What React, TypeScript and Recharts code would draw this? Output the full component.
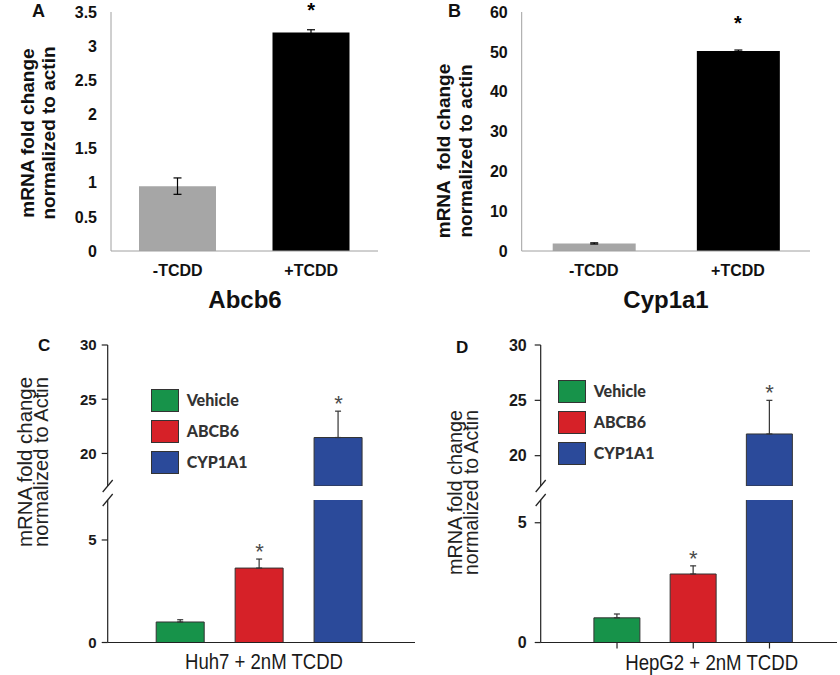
import React from 'react';
import { ComposedChart, Bar, Cell, XAxis, YAxis, ErrorBar, Line, Legend } from 'recharts';

// ---------- Panel A (Abcb6) ----------
const aCategories = ['-TCDD', '+TCDD'];
const aValues = [0.95, 3.2];
const aErrors = [0.12, 0.04];
const aStars = [false, true];
const aTicks = [0, 0.5, 1, 1.5, 2, 2.5, 3, 3.5];

// ---------- Panel B (Cyp1a1) ----------
const bCategories = ['-TCDD', '+TCDD'];
const bValues = [1.9, 50.2];
const bErrors = [0.15, 0.25];
const bStars = [false, true];
const bTicks = [0, 10, 20, 30, 40, 50, 60];

const abColors = ['#a6a6a6', '#000000'];

// ---------- Panels C / D ----------
const groups = ['Vehicle', 'ABCB6', 'CYP1A1'];
const groupColors = ['#17934a', '#d62128', '#2b4a9a'];

const cValues = [1.0, 3.63, 21.47];
const cErrors = [0.11, 0.44, 2.43];
const cStars = [false, true, true];

const dValues = [1.03, 2.86, 21.96];
const dErrors = [0.16, 0.34, 3.04];
const dStars = [false, true, true];

const upperTicks = [20, 25, 30];
const lowerTicks = [0, 5];

const cUpperDomain = [17.0, 30];
const cLowerDomain = [0, 6.95];
const dUpperDomain = [17.26, 30];
const dLowerDomain = [0, 5.95];

type Row = { name: string; value: number | null; err: number | number[] | null; star: number | null };

function simpleRows(cats: string[], vals: number[], errs: number[], stars: boolean[]): Row[] {
  return cats.map((name, i) => ({
    name,
    value: vals[i],
    err: errs[i],
    star: stars[i] ? vals[i] + errs[i] : null,
  }));
}

function brokenRows(cats: string[], vals: number[], errs: number[], stars: boolean[], lo: number, hi: number, upper: boolean): Row[] {
  return cats.map((name, i) => {
    const v = vals[i];
    const visibleTop = v > lo && v < hi;
    return {
      name,
      value: upper ? (v > lo ? v : null) : v,
      err: visibleTop ? [0, errs[i]] : null,
      star: visibleTop && stars[i] ? v + errs[i] : null,
    };
  });
}

const aRows = simpleRows(aCategories, aValues, aErrors, aStars);
const bRows = simpleRows(bCategories, bValues, bErrors, bStars);
const cUpperRows = brokenRows(groups, cValues, cErrors, cStars, cUpperDomain[0], cUpperDomain[1], true);
const cLowerRows = brokenRows(groups, cValues, cErrors, cStars, cLowerDomain[0], cLowerDomain[1], false);
const dUpperRows = brokenRows(groups, dValues, dErrors, dStars, dUpperDomain[0], dUpperDomain[1], true);
const dLowerRows = brokenRows(groups, dValues, dErrors, dStars, dLowerDomain[0], dLowerDomain[1], false);

const ARIAL = "Arial, 'Liberation Sans', sans-serif";

function starDot(offset: number, size: number, fill: string, weight: string) {
  return (props: any) => {
    const { cx, cy, value, index } = props;
    if (value == null || cy == null || Number.isNaN(cy) || cx == null) return <g key={`st-${index}`} />;
    return (
      <text key={`st-${index}`} x={cx} y={cy - offset} textAnchor="middle" fontSize={size} fontWeight={weight} fill={fill} fontFamily={ARIAL}>
        *
      </text>
    );
  };
}

function legendContent() {
  return (
    <div>
      {groups.map((n, i) => (
        <div key={n} style={{ display: 'flex', alignItems: 'center', height: 31 }}>
          <div style={{ width: 28, height: 23, background: groupColors[i], border: '1px solid #333', boxSizing: 'border-box' }} />
          <span style={{ marginLeft: 8, fontFamily: 'Lato, sans-serif', fontWeight: 900, fontSize: 16, color: '#333', lineHeight: '16px' }}>{n}</span>
        </div>
      ))}
    </div>
  );
}

const emptyTick = (props: any) => <g key={props.index} />;

function TopPanel(props: { rows: Row[]; left: number; margin: any; domain: number[]; ticks: number[]; barSize: number; starOffset: number }) {
  const { rows, left, margin, domain, ticks, barSize, starOffset } = props;
  return (
    <div style={{ position: 'absolute', left, top: 0 }}>
      <ComposedChart width={420} height={330} data={rows} margin={margin}>
        <XAxis
          dataKey="name"
          tickLine={false}
          axisLine={{ stroke: '#a0a0a0' }}
          tick={{ fill: '#111', fontSize: 16, fontWeight: 'bold', fontFamily: ARIAL }}
          tickSize={6}
          tickMargin={8}
          height={30}
        />
        <YAxis
          type="number"
          domain={domain}
          ticks={ticks}
          interval={0}
          width={60}
          tickLine={false}
          axisLine={{ stroke: '#a0a0a0' }}
          tick={{ fill: '#111', fontSize: 16, fontWeight: 'bold', fontFamily: ARIAL }}
          tickSize={6}
          tickMargin={8}
        />
        <Bar dataKey="value" barSize={barSize} isAnimationActive={false}>
          {rows.map((r, i) => (
            <Cell key={r.name} fill={abColors[i]} />
          ))}
          <ErrorBar dataKey="err" width={4} stroke="#000" strokeWidth={1.2} direction="y" />
        </Bar>
        <Line dataKey="star" stroke="none" dot={starDot(starOffset, 20, '#000', 'bold')} activeDot={false} isAnimationActive={false} legendType="none" />
      </ComposedChart>
    </div>
  );
}

function BrokenPanel(props: {
  left: number;
  upperRows: Row[];
  lowerRows: Row[];
  upperDomain: number[];
  lowerDomain: number[];
  marginLeft: number;
  marginRight: number;
  padLeft: number;
  padRight: number;
  barSize: number;
  tickFont: number;
  tickMargin: number;
  xTicks: boolean;
  legendLeft: number;
  legendTop: number;
}) {
  const p = props;
  const yTick = { fill: '#1a1a1a', fontSize: p.tickFont, fontWeight: 'bold', fontFamily: ARIAL };
  return (
    <>
      <div style={{ position: 'absolute', left: p.left, top: 330 }}>
        <ComposedChart width={420} height={160} data={p.upperRows} margin={{ top: 15, right: p.marginRight, bottom: 4, left: p.marginLeft }}>
          <XAxis dataKey="name" hide padding={{ left: p.padLeft, right: p.padRight }} />
          <YAxis
            type="number"
            domain={p.upperDomain}
            ticks={upperTicks}
            interval={0}
            allowDataOverflow
            width={60}
            axisLine={{ stroke: '#222', strokeWidth: 1.2 }}
            tickLine={{ stroke: '#222', strokeWidth: 1.2 }}
            tick={yTick}
            tickSize={6}
            tickMargin={p.tickMargin}
          />
          <Bar dataKey="value" barSize={p.barSize} stroke="#333" strokeWidth={1} isAnimationActive={false}>
            {p.upperRows.map((r, i) => (
              <Cell key={r.name} fill={groupColors[i]} />
            ))}
            <ErrorBar dataKey="err" width={3} stroke="#333" strokeWidth={1.2} direction="y" />
          </Bar>
          <Line dataKey="star" stroke="none" dot={starDot(0, 22, '#4a4a4a', 'normal')} activeDot={false} isAnimationActive={false} legendType="none" />
          <Legend
            content={legendContent}
            layout="vertical"
            verticalAlign="middle"
            align="center"
            wrapperStyle={{ left: p.legendLeft, top: p.legendTop, width: 140 }}
          />
        </ComposedChart>
      </div>
      <div style={{ position: 'absolute', left: p.left, top: 490 }}>
        <ComposedChart width={420} height={185} data={p.lowerRows} margin={{ top: 10, right: p.marginRight, bottom: 22.5, left: p.marginLeft }}>
          <XAxis
            dataKey="name"
            padding={{ left: p.padLeft, right: p.padRight }}
            axisLine={{ stroke: '#222', strokeWidth: 1.2 }}
            tickLine={p.xTicks ? { stroke: '#222', strokeWidth: 1.2 } : false}
            tick={emptyTick}
            tickSize={6}
            height={10}
          />
          <YAxis
            type="number"
            domain={p.lowerDomain}
            ticks={lowerTicks}
            interval={0}
            allowDataOverflow
            width={60}
            axisLine={{ stroke: '#222', strokeWidth: 1.2 }}
            tickLine={{ stroke: '#222', strokeWidth: 1.2 }}
            tick={yTick}
            tickSize={6}
            tickMargin={p.tickMargin}
          />
          <Bar dataKey="value" barSize={p.barSize} stroke="#333" strokeWidth={1} isAnimationActive={false}>
            {p.lowerRows.map((r, i) => (
              <Cell key={r.name} fill={groupColors[i]} />
            ))}
            <ErrorBar dataKey="err" width={3} stroke="#333" strokeWidth={1.2} direction="y" />
          </Bar>
          <Line dataKey="star" stroke="none" dot={starDot(0, 22, '#4a4a4a', 'normal')} activeDot={false} isAnimationActive={false} legendType="none" />
        </ComposedChart>
      </div>
    </>
  );
}

function Slash({ x, y }: { x: number; y: number }) {
  return <line x1={x - 5} y1={y + 6} x2={x + 5} y2={y - 6} stroke="#222" strokeWidth={1.2} />;
}

function RotTitle({ x1, x2, cy, lines, size, weight, fill, len }: { x1: number; x2: number; cy: number; lines: string[]; size: number; weight: string; fill: string; len?: number }) {
  const common: any = { textAnchor: 'middle', fontSize: size, fontWeight: weight, fill, fontFamily: ARIAL, style: { whiteSpace: 'pre' } };
  if (len) {
    common.textLength = len;
    common.lengthAdjust = 'spacingAndGlyphs';
  }
  return (
    <>
      <text transform={`translate(${x1},${cy}) rotate(-90)`} {...common}>{lines[0]}</text>
      <text transform={`translate(${x2},${cy}) rotate(-90)`} {...common}>{lines[1]}</text>
    </>
  );
}

export default function App() {
  return (
    <div style={{ position: 'absolute', left: 0, top: 0, width: 840, height: 675, background: '#fff', overflow: 'hidden' }}>
      <TopPanel rows={aRows} left={0} margin={{ top: 12, right: 42, bottom: 49, left: 51 }} domain={[0, 3.5]} ticks={aTicks} barSize={77} starOffset={13} />
      <TopPanel rows={bRows} left={420} margin={{ top: 12, right: 30, bottom: 49, left: 41.7 }} domain={[0, 60]} ticks={bTicks} barSize={83} starOffset={20} />
      <BrokenPanel
        left={0}
        upperRows={cUpperRows}
        lowerRows={cLowerRows}
        upperDomain={cUpperDomain}
        lowerDomain={cLowerDomain}
        marginLeft={47.7}
        marginRight={5}
        padLeft={33.5}
        padRight={37}
        barSize={48}
        tickFont={15}
        tickMargin={5}
        xTicks={false}
        legendLeft={150.7}
        legendTop={54.5}
      />
      <BrokenPanel
        left={420}
        upperRows={dUpperRows}
        lowerRows={dLowerRows}
        upperDomain={dUpperDomain}
        lowerDomain={dLowerDomain}
        marginLeft={60.7}
        marginRight={3}
        padLeft={38.2}
        padRight={29.4}
        barSize={46}
        tickFont={16}
        tickMargin={8}
        xTicks={true}
        legendLeft={137.7}
        legendTop={45.5}
      />
      <svg width={840} height={675} style={{ position: 'absolute', left: 0, top: 0, pointerEvents: 'none' }}>
        <text x={32} y={17} fontSize={18} fontWeight="bold" fontFamily={ARIAL} fill="#111">A</text>
        <text x={448} y={17} fontSize={18} fontWeight="bold" fontFamily={ARIAL} fill="#111">B</text>
        <text x={38} y={351} fontSize={17} fontWeight="bold" fontFamily={ARIAL} fill="#111">C</text>
        <text x={456} y={353} fontSize={17} fontWeight="bold" fontFamily={ARIAL} fill="#111">D</text>

        <RotTitle x1={34} x2={55} cy={133} lines={['mRNA fold change', 'normalized to actin']} size={19} weight="bold" fill="#111" />
        <RotTitle x1={450} x2={472} cy={151} lines={['mRNA  fold change', 'normalized to actin']} size={19} weight="bold" fill="#111" />
        <RotTitle x1={32} x2={48} cy={462} lines={['mRNA fold change', 'normalized to Actin']} size={20} weight="normal" fill="#222" len={170} />
        <RotTitle x1={462} x2={478} cy={492.5} lines={['mRNA fold change', 'normalized to Actin']} size={20} weight="normal" fill="#222" len={165} />

        <text x={245} y={308} textAnchor="middle" fontSize={24} fontWeight="bold" fontFamily={ARIAL} fill="#111">Abcb6</text>
        <text x={666} y={308} textAnchor="middle" fontSize={24} fontWeight="bold" fontFamily={ARIAL} fill="#111">Cyp1a1</text>
        <text x={264} y={669} textAnchor="middle" fontSize={22} fontFamily={ARIAL} fill="#1a1a1a" textLength={158} lengthAdjust="spacingAndGlyphs">Huh7 + 2nM TCDD</text>
        <text x={711.7} y={670} textAnchor="middle" fontSize={22} fontFamily={ARIAL} fill="#1a1a1a" textLength={173} lengthAdjust="spacingAndGlyphs">HepG2 + 2nM TCDD</text>

        <Slash x={107.7} y={486} />
        <Slash x={107.7} y={500} />
        <Slash x={540.7} y={486} />
        <Slash x={540.7} y={500} />
      </svg>
    </div>
  );
}
